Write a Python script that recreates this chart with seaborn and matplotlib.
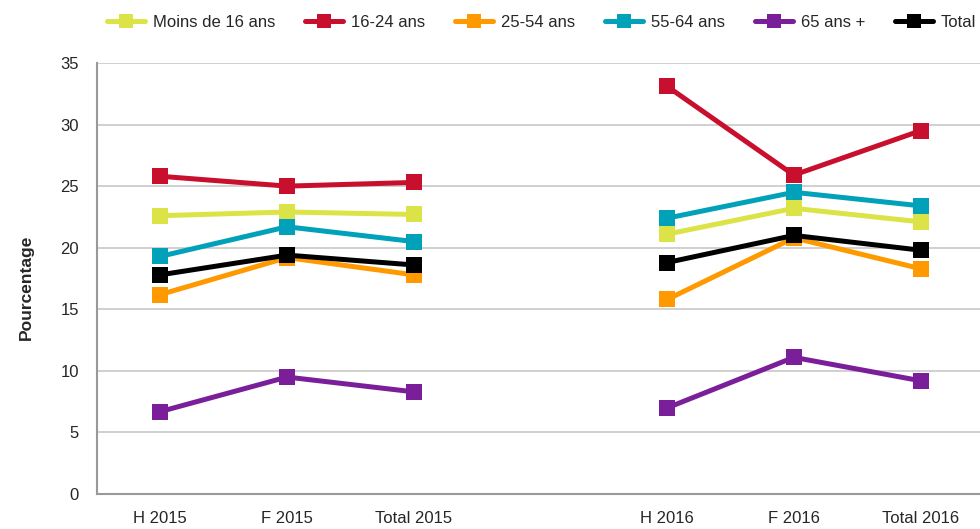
import matplotlib
matplotlib.use("Agg")
import matplotlib.pyplot as plt
from matplotlib import font_manager
import seaborn as sns
import pandas as pd
import numpy as np

categories = ["H 2015", "F 2015", "Total 2015", "", "H 2016", "F 2016", "Total 2016"]
series_names = ["Moins de 16 ans", "16-24 ans", "25-54 ans", "55-64 ans", "65 ans +", "Total"]
moins16 = [22.6, 22.9, 22.7, None, 21.1, 23.2, 22.1]
a16_24 = [25.8, 25.0, 25.3, None, 33.1, 25.9, 29.5]
a25_54 = [16.2, 19.2, 17.8, None, 15.8, 20.8, 18.3]
a55_64 = [19.3, 21.7, 20.5, None, 22.4, 24.5, 23.4]
a65 = [6.7, 9.5, 8.3, None, 7.0, 11.1, 9.2]
total = [17.8, 19.4, 18.6, None, 18.8, 21.0, 19.8]
y_ticks = [0, 5, 10, 15, 20, 25, 30, 35]

colors = ["#DCE346", "#C8102E", "#FF9900", "#00A1B9", "#7A1F99", "#000000"]

sns.set_theme(style="white")
avail = {f.name for f in font_manager.fontManager.ttflist}
fam = "Liberation Sans Narrow" if "Liberation Sans Narrow" in avail else "Liberation Sans"
plt.rcParams["font.family"] = [fam, "DejaVu Sans"]

rows = []
for name, vals in zip(series_names, [moins16, a16_24, a25_54, a55_64, a65, total]):
    for i, v in enumerate(vals):
        if v is None:
            continue
        rows.append({"pos": i, "value": v, "serie": name, "year": "2015" if i < 3 else "2016"})
df = pd.DataFrame(rows)

fig = plt.figure(figsize=(9.8, 5.29), dpi=100)
ax = fig.add_axes([0.099, 0.066, 0.905, 0.815])

sns.lineplot(data=df, x="pos", y="value", hue="serie", hue_order=series_names,
             palette=colors, units="year", estimator=None, marker="s",
             markersize=11.5, markeredgewidth=0, linewidth=3.6, ax=ax, legend=False,
             zorder=3)

ax.set_xlim(-0.5, 6.5)
ax.set_ylim(0, 35)
ax.set_yticks(y_ticks)
ax.set_yticklabels([str(t) for t in y_ticks], fontsize=12)
ax.set_xticks(range(len(categories)))
ax.set_xticklabels(categories, fontsize=12)
ax.tick_params(axis="x", which="major", length=0, pad=12)
ax.set_xticks(np.arange(-0.5, 7.0, 1.0), minor=True)
ax.tick_params(axis="x", which="minor", length=5, width=1.2, color="#999999", direction="out")
ax.tick_params(axis="y", length=5, width=1.2, color="#999999", direction="out", pad=8)
ax.grid(axis="y", color="#c8c8c8", linewidth=1.2, zorder=0)
ax.set_axisbelow(True)
for s in ["top", "right"]:
    ax.spines[s].set_visible(False)
for s in ["left", "bottom"]:
    ax.spines[s].set_color("#999999")
    ax.spines[s].set_linewidth(1.5)
ax.set_xlabel("")
ax.set_ylabel("Pourcentage", fontsize=12.5, fontweight="bold", labelpad=0)
ax.yaxis.set_label_coords(-0.071, 0.48)

handles = [plt.Line2D([], [], color=c, marker="s", markersize=10, linewidth=3.6, markeredgewidth=0)
           for c in colors]
fig.legend(handles, series_names, loc="center left", bbox_to_anchor=(0.109, 0.958),
           ncol=6, frameon=False, fontsize=12, handlelength=2.3, handletextpad=0.45,
           columnspacing=1.8, borderaxespad=0, borderpad=0)

fig.savefig("out.png", dpi=100)
